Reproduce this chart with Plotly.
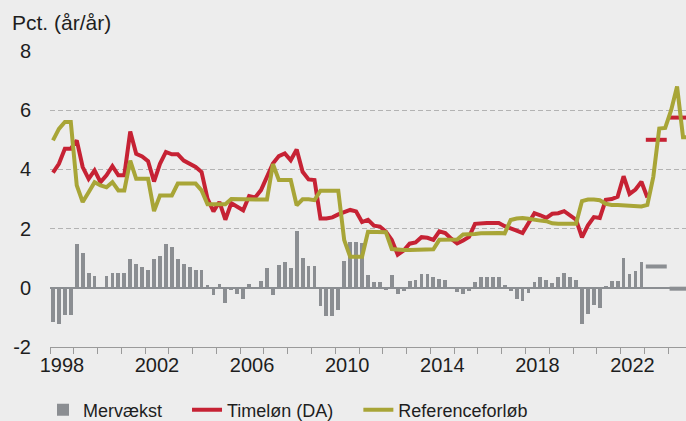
import plotly.graph_objects as go

# ---------------- data (quarterly, from 1998K1) ----------------
quarter_labels = [f"{y}K{q}" for y in range(1998, 2025) for q in range(1, 5)]

mervaekst = [
    -1.14, -1.23, -0.93, -0.93,   # 1998
    1.49, 1.19, 0.50, 0.39,       # 1999
    0.00, 0.39, 0.50, 0.50,       # 2000
    0.50, 0.99, 0.80, 0.70,       # 2001
    0.61, 0.99, 1.09, 1.49,       # 2002
    1.39, 0.99, 0.80, 0.70,       # 2003
    0.61, 0.61, 0.10, -0.24,      # 2004
    0.12, -0.52, -0.09, -0.22,    # 2005
    -0.39, 0.13, 0.00, 0.23,      # 2006
    0.68, -0.25, 0.78, 0.88,      # 2007
    0.68, 1.91, 1.02, 0.73,       # 2008
    0.73, -0.62, -0.96, -0.96,    # 2009
    -0.75, 0.90, 1.54, 1.54,      # 2010
    1.50, 0.42, 0.21, 0.21,       # 2011
    -0.08, 0.43, -0.20, -0.11,    # 2012
    0.23, 0.25, 0.47, 0.47,       # 2013
    0.36, 0.30, 0.28, -0.05,      # 2014
    -0.15, -0.21, -0.10, 0.21,    # 2015
    0.36, 0.36, 0.36, 0.36,       # 2016
    0.09, -0.11, -0.38, -0.45,    # 2017
    -0.16, 0.21, 0.36, 0.27,      # 2018
    0.16, 0.36, 0.50, 0.36,       # 2019
    0.27, -1.22, -0.88, -0.57,    # 2020
    -0.69, 0.05, 0.24, 0.24,      # 2021
    1.02, 0.46, 0.56, 0.87,       # 2022
]

timelon = [
    3.89, 4.19, 4.70, 4.70,       # 1998
    4.98, 4.08, 3.68, 3.97,       # 1999
    3.57, 3.80, 4.11, 3.80,       # 2000
    3.80, 5.28, 4.53, 4.44,       # 2001
    4.28, 3.59, 4.19, 4.59,       # 2002
    4.51, 4.51, 4.30, 4.19,       # 2003
    4.08, 3.91, 3.01, 2.58,       # 2004
    2.90, 2.30, 2.86, 2.74,       # 2005
    2.62, 3.10, 3.05, 3.30,       # 2006
    3.73, 4.20, 4.45, 4.54,       # 2007
    4.31, 4.67, 3.92, 3.66,       # 2008
    3.64, 2.34, 2.34, 2.38,       # 2009
    2.48, 2.56, 2.63, 2.58,       # 2010
    2.22, 2.30, 2.10, 2.07,       # 2011
    1.90, 1.62, 1.12, 1.26,       # 2012
    1.49, 1.53, 1.71, 1.69,       # 2013
    1.62, 1.91, 1.85, 1.66,       # 2014
    1.50, 1.60, 1.72, 2.16,       # 2015
    2.19, 2.19, 2.19, 2.19,       # 2016
    2.08, 2.02, 1.93, 1.85,       # 2017
    2.22, 2.52, 2.45, 2.36,       # 2018
    2.50, 2.52, 2.59, 2.44,       # 2019
    2.30, 1.70, 2.11, 2.39,       # 2020
    2.36, 2.97, 3.00, 3.08,       # 2021
    3.77, 3.17, 3.32, 3.58,       # 2022
    3.05,                         # 2023K1
]

referenceforloeb = [
    4.98, 5.37, 5.60, 5.60,       # 1998
    3.46, 2.90, 3.23, 3.57,       # 1999
    3.46, 3.40, 3.57, 3.29,       # 2000
    3.29, 4.30, 3.68, 3.68,       # 2001
    3.68, 2.59, 3.12, 3.12,       # 2002
    3.12, 3.52, 3.52, 3.52,       # 2003
    3.52, 3.29, 2.82, 2.82,       # 2004
    2.82, 2.82, 3.00, 3.00,       # 2005
    3.00, 3.00, 3.00, 3.00,       # 2006
    2.98, 4.18, 3.64, 3.64,       # 2007
    3.64, 2.79, 2.99, 2.99,       # 2008
    2.96, 3.28, 3.28, 3.28,       # 2009
    3.28, 1.61, 1.05, 1.05,       # 2010
    1.05, 1.89, 1.89, 1.89,       # 2011
    1.88, 1.31, 1.28, 1.28,       # 2012
    1.28, 1.28, 1.28, 1.28,       # 2013
    1.30, 1.62, 1.62, 1.60,       # 2014
    1.63, 1.80, 1.80, 1.82,       # 2015
    1.84, 1.85, 1.85, 1.85,       # 2016
    1.84, 2.29, 2.34, 2.36,       # 2017
    2.33, 2.29, 2.27, 2.25,       # 2018
    2.18, 2.16, 2.16, 2.16,       # 2019
    2.16, 2.93, 2.98, 2.98,       # 2020
    2.96, 2.84, 2.80, 2.80,       # 2021
    2.78, 2.78, 2.76, 2.75,       # 2022
    2.80, 3.75, 5.38, 5.40,       # 2023
    6.00, 6.80, 5.09, 5.09,       # 2024
]

# annual forecasts (drawn as horizontal segments over each year)
forecast_years = [2023, 2024]
timelon_forecast = [5.00, 5.75]
mervaekst_forecast = [0.72, -0.03]

series_names = ["Mervækst", "Timeløn (DA)", "Referenceforløb"]
x_label_years = [1998, 2002, 2006, 2010, 2014, 2018, 2022]
y_ticks = [-2, 0, 2, 4, 6, 8]

# ---------------- styling ----------------
BG = "#ededed"
GRAY = "#8b8e92"
RED = "#c62234"
OLIVE = "#a8a537"
TXT = "#1e1e1e"
FONT = "Liberation Sans, Arial, sans-serif"
PAD = "\u00a0" * 4   # extra spacing between legend entries


def qx(label):
    y, q = label.split("K")
    return int(y) + (int(q) - 1) / 4 + 0.125


def seg_xy(years, vals):
    xs, ys = [], []
    for yr, v in zip(years, vals):
        xs += [yr + 0.06, yr + 0.94, None]
        ys += [v, v, None]
    return xs, ys


x_bar = [qx(l) for l in quarter_labels[:len(mervaekst)]]
x_red = [qx(l) for l in quarter_labels[:len(timelon)]]
x_ol = [qx(l) for l in quarter_labels[:len(referenceforloeb)]]

fig = go.Figure()

fig.add_trace(go.Bar(
    x=x_bar, y=mervaekst, width=0.16, name=series_names[0] + PAD,
    marker=dict(color=GRAY, line=dict(width=0)),
))
fx, fy = seg_xy(forecast_years, mervaekst_forecast)
fig.add_trace(go.Scatter(x=fx, y=fy, mode="lines", showlegend=False,
                         line=dict(color=GRAY, width=4), hoverinfo="skip"))
fig.add_trace(go.Scatter(
    x=x_red, y=timelon, mode="lines", name=series_names[1] + PAD,
    line=dict(color=RED, width=4),
))
fx, fy = seg_xy(forecast_years, timelon_forecast)
fig.add_trace(go.Scatter(x=fx, y=fy, mode="lines", showlegend=False,
                         line=dict(color=RED, width=4), hoverinfo="skip"))
fig.add_trace(go.Scatter(
    x=x_ol, y=referenceforloeb, mode="lines", name=series_names[2],
    line=dict(color=OLIVE, width=4),
))

fig.update_layout(
    width=686, height=421,
    paper_bgcolor=BG, plot_bgcolor=BG,
    margin=dict(l=50, r=0, t=51, b=74),
    font=dict(family=FONT, size=20, color=TXT),
    bargap=0,
    showlegend=True,
    legend=dict(
        orientation="h", xref="container", yref="container",
        x=43 / 686, y=0.026, xanchor="left", yanchor="middle",
        font=dict(size=18, color=TXT), bgcolor="rgba(0,0,0,0)",
        traceorder="normal",
    ),
    title=dict(
        text="Pct. (år/år)", xref="container", yref="container",
        x=12 / 686, xanchor="left", y=1 - 23 / 421, yanchor="middle",
        font=dict(size=21, color=TXT),
    ),
)

fig.update_xaxes(
    range=[1998, 2024.75],
    tickmode="array",
    tickvals=[y + 0.5 for y in x_label_years],
    ticktext=[str(y) for y in x_label_years],
    ticks="", showgrid=False, zeroline=False,
    showline=True, linecolor="#9a9a9a", linewidth=1,
    tickfont=dict(size=20, color=TXT),
    minor=dict(ticks="outside", tickmode="linear", tick0=1998, dtick=1,
               ticklen=6, tickcolor="#9a9a9a", tickwidth=1, showgrid=False),
)
fig.update_yaxes(
    range=[-2, 8],
    tickmode="array", tickvals=y_ticks, ticktext=[str(v) for v in y_ticks],
    ticks="", showline=False,
    showgrid=True, gridcolor="#b3b3b3", gridwidth=1, griddash="5px,3px",
    zeroline=True, zerolinecolor=GRAY, zerolinewidth=1.5,
    tickfont=dict(size=20, color=TXT),
    ticklabelstandoff=18,
)

fig.write_html(
    "out.html",
    config={"displayModeBar": False},
    post_script="document.body.style.margin='0';document.body.style.padding='0';"
                "document.documentElement.style.margin='0';",
)
